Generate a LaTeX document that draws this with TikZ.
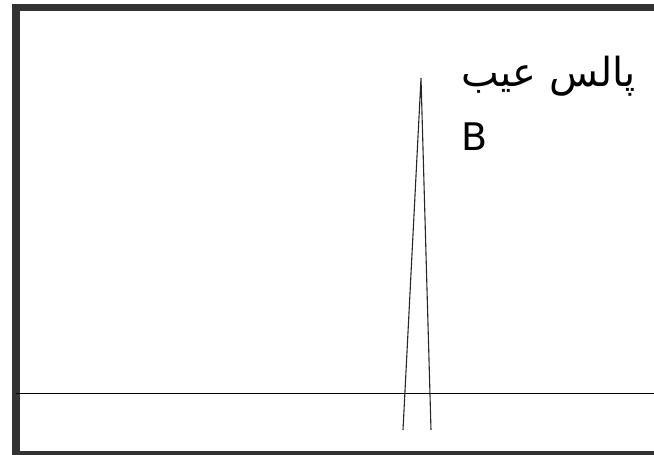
\documentclass[tikz,border=0pt]{standalone}
\usepackage{fontspec}
\setmainfont{DejaVu Sans}
\newfontfamily\arabicfont[Script=Arabic]{DejaVu Sans}
\TeXXeTstate=1
\begin{document}
\begin{tikzpicture}[x=1pt,y=-1pt,
  frame/.style={draw=black!80,line width=7.5pt},
  axisline/.style={draw=black,line width=1.5pt},
  pulse/.style={draw=black!85,line width=1.1pt},
  lbl/.style={inner sep=0pt,anchor=base west}]
\useasboundingbox (0,0) rectangle (654,455);
\clip (0,0) rectangle (654,455);
\draw[frame] (16,7.5) rectangle (720,455);
\coordinate (a0) at (16,393.5);
\coordinate (a1) at (654,393.5);
\draw[axisline] (a0) -- (a1);
\coordinate (pl) at (403,430);
\coordinate (pt) at (421,78);
\coordinate (pr) at (431,430);
\draw[pulse] (pl) -- (pt) -- (pr);
\node[lbl,font=\fontsize{40}{42}\selectfont] (t1) at (461,86) {\arabicfont\beginR پالس عیب\endR};
\node[lbl,font=\fontsize{38}{40}\selectfont] (t2) at (461,150) {B};
\end{tikzpicture}
\end{document}
